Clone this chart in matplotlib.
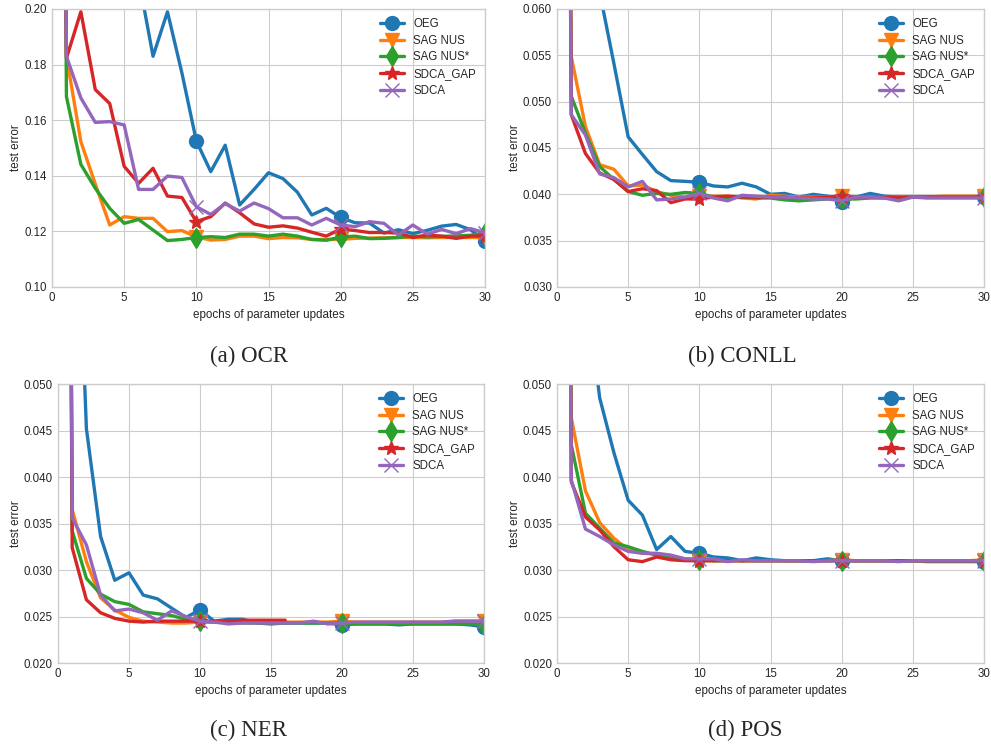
import matplotlib
matplotlib.use("Agg")
from matplotlib import pyplot as plt

plt.style.use("seaborn-v0_8-whitegrid")
plt.rcParams["font.family"] = ["Liberation Sans", "DejaVu Sans"]

epochs = list(range(31))

labels = ["OEG", "SAG NUS", "SAG NUS*", "SDCA_GAP", "SDCA"]
markers = ["o", "v", "d", "*", "x"]
colors = ["#1f77b4", "#ff7f0e", "#2ca02c", "#d62728", "#9467bd"]

# OCR test error per epoch
ocr_oeg = [0.9, 0.5, 0.4, 0.33, 0.28, 0.24, 0.211, 0.183, 0.199, 0.177, 0.1525,
           0.1415, 0.151, 0.1295, 0.1351, 0.1411, 0.139, 0.1341, 0.1259, 0.1283, 0.1250,
           0.1231, 0.1230, 0.1194, 0.1206, 0.1192, 0.1204, 0.1219, 0.1225, 0.1206, 0.1165]
ocr_sag = [0.9, 0.183, 0.1523, 0.137, 0.1223, 0.1253, 0.1247, 0.1247, 0.1199, 0.1203, 0.1180,
           0.1169, 0.1171, 0.1183, 0.1183, 0.1174, 0.1178, 0.1177, 0.1171, 0.1171, 0.1171,
           0.1175, 0.1176, 0.1177, 0.1178, 0.1178, 0.1177, 0.1178, 0.1178, 0.1178, 0.1178]
ocr_sag_star = [0.9, 0.1685, 0.1441, 0.1355, 0.1283, 0.1229, 0.1243, 0.1205, 0.1167, 0.1171, 0.1178,
                0.1181, 0.1178, 0.1190, 0.1190, 0.1183, 0.1190, 0.1183, 0.1171, 0.1168, 0.1180,
                0.1183, 0.1174, 0.1175, 0.1178, 0.1183, 0.1180, 0.1182, 0.1184, 0.1186, 0.1194]
ocr_gap = [0.9, 0.1823, 0.199, 0.171, 0.166, 0.1434, 0.1373, 0.1427, 0.1327, 0.1322, 0.1235,
           0.1253, 0.1302, 0.1267, 0.1227, 0.1215, 0.1220, 0.1212, 0.1197, 0.1183, 0.1209,
           0.1203, 0.1196, 0.1196, 0.1194, 0.1178, 0.1187, 0.1183, 0.1175, 0.1183, 0.1183]
ocr_sdca = [0.9, 0.183, 0.168, 0.1592, 0.1595, 0.1583, 0.1351, 0.1351, 0.1399, 0.1394, 0.1289,
            0.1261, 0.1300, 0.1273, 0.1302, 0.1282, 0.1249, 0.1249, 0.1223, 0.1247, 0.1223,
            0.1217, 0.1235, 0.1229, 0.1187, 0.1223, 0.1190, 0.1207, 0.1192, 0.1210, 0.1195]

# CONLL test error per epoch
conll_oeg = [0.3, 0.1, 0.075, 0.0618, 0.0541, 0.0462, 0.0443, 0.04245, 0.04148, 0.0414, 0.0413,
             0.0409, 0.0408, 0.0412, 0.0408, 0.0400, 0.0401, 0.0397, 0.0400, 0.0398, 0.0392,
             0.0397, 0.0401, 0.0398, 0.0397, 0.0397, 0.0397, 0.0397, 0.0397, 0.0397, 0.0397]
conll_sag = [0.3, 0.0549, 0.0473, 0.0432, 0.0427, 0.0409, 0.0410, 0.0403, 0.0399, 0.0397, 0.0398,
             0.0398, 0.0398, 0.0396, 0.0395, 0.0399, 0.0398, 0.0397, 0.0397, 0.0397, 0.0398,
             0.0397, 0.0397, 0.0397, 0.0397, 0.0397, 0.0397, 0.0398, 0.0398, 0.0398, 0.0398]
conll_sag_star = [0.3, 0.0506, 0.0466, 0.0430, 0.0416, 0.0403, 0.0399, 0.0401, 0.0400, 0.0402, 0.0401,
                  0.0397, 0.0396, 0.0397, 0.0396, 0.0396, 0.0394, 0.0393, 0.0394, 0.0395, 0.0395,
                  0.0395, 0.0396, 0.0396, 0.0396, 0.0397, 0.0397, 0.0397, 0.0397, 0.0397, 0.0397]
conll_gap = [0.3, 0.0486, 0.0444, 0.0423, 0.0416, 0.0403, 0.0406, 0.0404, 0.0391, 0.0395, 0.0395,
             0.0397, 0.0398, 0.0397, 0.0397, 0.0397, 0.0397, 0.0396, 0.0396, 0.0397, 0.0398,
             0.0397, 0.0397, 0.0397, 0.0397, 0.0397, 0.0397, 0.0397, 0.0397, 0.0397, 0.0397]
conll_sdca = [0.3, 0.0486, 0.0464, 0.0422, 0.0418, 0.0408, 0.0414, 0.0394, 0.0395, 0.0397, 0.0401,
              0.0396, 0.0393, 0.0399, 0.0398, 0.0397, 0.0397, 0.0396, 0.0395, 0.0395, 0.0393,
              0.0397, 0.0397, 0.0396, 0.0393, 0.0397, 0.0396, 0.0396, 0.0396, 0.0396, 0.0396]

# NER test error per epoch (SDCA_GAP stops after epoch 16)
ner_oeg = [0.3, 0.085, 0.0452, 0.0336, 0.0289, 0.0297, 0.0273, 0.0269, 0.0259, 0.0249, 0.0257,
           0.0245, 0.0247, 0.0247, 0.0243, 0.0242, 0.0243, 0.0243, 0.0243, 0.0243, 0.0241,
           0.0242, 0.0242, 0.0242, 0.0241, 0.0242, 0.0242, 0.0242, 0.0242, 0.0241, 0.0239]
ner_sag = [0.3, 0.0365, 0.0309, 0.0270, 0.0257, 0.0249, 0.0245, 0.0244, 0.0243, 0.0243, 0.0244,
           0.0244, 0.0244, 0.0244, 0.0244, 0.0244, 0.0244, 0.0244, 0.0244, 0.0244, 0.0245,
           0.0244, 0.0244, 0.0244, 0.0244, 0.0244, 0.0244, 0.0244, 0.0245, 0.0245, 0.0245]
ner_sag_star = [0.3, 0.0342, 0.0291, 0.0274, 0.0266, 0.0263, 0.0255, 0.0253, 0.0251, 0.0247, 0.0245,
                0.0244, 0.0244, 0.0243, 0.0243, 0.0243, 0.0243, 0.0243, 0.0243, 0.0243, 0.0243,
                0.0242, 0.0242, 0.0242, 0.0242, 0.0242, 0.0242, 0.0242, 0.0242, 0.0242, 0.0241]
ner_gap = [0.3, 0.0324, 0.0268, 0.0254, 0.0248, 0.0245, 0.0244, 0.0245, 0.0245, 0.0245, 0.0245,
           0.0245, 0.0245, 0.0246, 0.0246, 0.0246, 0.0246]
ner_sdca = [0.3, 0.0356, 0.0327, 0.0273, 0.0256, 0.0258, 0.0254, 0.0246, 0.0256, 0.0250, 0.0245,
            0.0244, 0.0242, 0.0243, 0.0243, 0.0243, 0.0243, 0.0243, 0.0245, 0.0242, 0.0243,
            0.0244, 0.0244, 0.0244, 0.0244, 0.0244, 0.0244, 0.0244, 0.0245, 0.0245, 0.0245]

# POS test error per epoch
pos_oeg = [0.3, 0.09, 0.061, 0.0485, 0.0426, 0.0375, 0.0359, 0.0322, 0.0336, 0.0320, 0.0318,
           0.0314, 0.0313, 0.0310, 0.0313, 0.0311, 0.0310, 0.0310, 0.0310, 0.0312, 0.0310,
           0.0310, 0.0310, 0.0310, 0.0310, 0.0310, 0.0309, 0.0309, 0.0309, 0.0309, 0.0309]
pos_sag = [0.3, 0.0464, 0.0385, 0.0351, 0.0334, 0.0322, 0.0318, 0.0317, 0.0315, 0.0312, 0.0310,
           0.0310, 0.0310, 0.0310, 0.0310, 0.0310, 0.0310, 0.0310, 0.0310, 0.0310, 0.0311,
           0.0310, 0.0310, 0.0310, 0.0310, 0.0310, 0.0310, 0.0310, 0.0310, 0.0310, 0.0311]
pos_sag_star = [0.3, 0.0435, 0.0361, 0.0345, 0.0329, 0.0325, 0.0320, 0.0316, 0.0313, 0.0311, 0.0311,
                0.0310, 0.0310, 0.0310, 0.0310, 0.0310, 0.0310, 0.0310, 0.0310, 0.0310, 0.0310,
                0.0310, 0.0310, 0.0310, 0.0310, 0.0310, 0.0310, 0.0310, 0.0310, 0.0310, 0.0310]
pos_gap = [0.3, 0.0395, 0.0357, 0.0343, 0.0325, 0.0311, 0.0309, 0.0314, 0.0311, 0.0310, 0.0310,
           0.0310, 0.0310, 0.0310, 0.0310, 0.0310, 0.0310, 0.0310, 0.0310, 0.0310, 0.0310,
           0.0310, 0.0310, 0.0310, 0.0310, 0.0310, 0.0310, 0.0310, 0.0310, 0.0310, 0.0310]
pos_sdca = [0.3, 0.0397, 0.0344, 0.0336, 0.0327, 0.0320, 0.0318, 0.0318, 0.0316, 0.0312, 0.0312,
            0.0312, 0.0309, 0.0311, 0.0310, 0.0310, 0.0310, 0.0310, 0.0309, 0.0310, 0.0310,
            0.0310, 0.0310, 0.0310, 0.0309, 0.0310, 0.0310, 0.0310, 0.0310, 0.0310, 0.0310]

panels = [
    ("(a) OCR", [ocr_oeg, ocr_sag, ocr_sag_star, ocr_gap, ocr_sdca], (0.10, 0.20), 0.02),
    ("(b) CONLL", [conll_oeg, conll_sag, conll_sag_star, conll_gap, conll_sdca], (0.030, 0.060), 0.005),
    ("(c) NER", [ner_oeg, ner_sag, ner_sag_star, ner_gap, ner_sdca], (0.020, 0.050), 0.005),
    ("(d) POS", [pos_oeg, pos_sag, pos_sag_star, pos_gap, pos_sdca], (0.020, 0.050), 0.005),
]

W, H = 991, 746
# axes boxes in pixels: left, top, right, bottom
boxes = [(52, 9, 485, 287), (557, 9, 984, 287), (58, 384, 484, 663), (557, 384, 984, 663)]
caption_pos = [(249, 356), (742, 356), (249, 730), (745, 730)]

fig = plt.figure(figsize=(W / 100, H / 100), dpi=100)

for (caption, series, ylim, ystep), (l, t, r, b), (cx, cy) in zip(panels, boxes, caption_pos):
    ax = fig.add_axes([l / W, 1 - b / H, (r - l) / W, (b - t) / H])
    for vals, lab, mk, col in zip(series, labels, markers, colors):
        ax.plot(epochs[:len(vals)], vals, color=col, marker=mk, markevery=10,
                markersize=10, linewidth=2.4, label=lab)
    ax.set_xlim(0, 30)
    ax.set_ylim(*ylim)
    ax.set_yticks([ylim[0] + i * ystep for i in range(int(round((ylim[1] - ylim[0]) / ystep)) + 1)])
    ax.tick_params(labelsize=8.3, pad=3.6, colors="#262626")
    ax.set_xlabel("epochs of parameter updates", fontsize=8.4, labelpad=3.5)
    ax.set_ylabel("test error", fontsize=8.4, labelpad=1.5)
    ax.legend(loc="upper right", fontsize=8.3, frameon=False, handlelength=2.1,
              labelspacing=0.4, borderaxespad=0.4)
    fig.text(cx / W, 1 - cy / H, caption, family="Liberation Serif", fontsize=16.5,
             ha="center", va="center")

fig.savefig("out.png", dpi=100)
